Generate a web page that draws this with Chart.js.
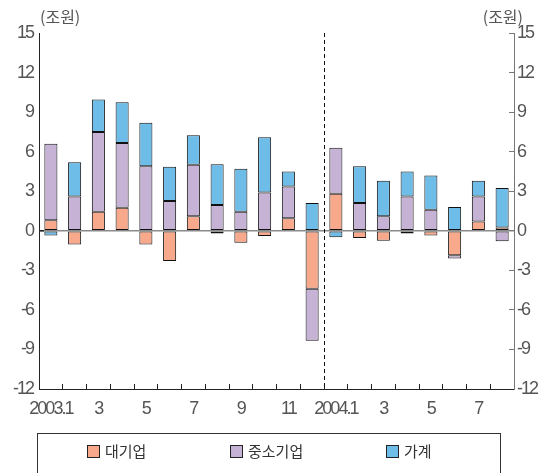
<!DOCTYPE html>
<html>
<head>
<meta charset="utf-8">
<script src="https://cdn.jsdelivr.net/npm/chart.js@4/dist/chart.umd.min.js"></script>
<style>
  html, body { margin: 0; padding: 0; background: #fff; overflow: hidden; }
  canvas { display: block; }
</style>
</head>
<body>
<canvas id="chart" width="545" height="473"></canvas>
<script>
// Monthly categories, 2003.1 – 2004.8
const months = ['2003.1','2','3','4','5','6','7','8','9','10','11','12',
                '2004.1','2','3','4','5','6','7','8'];

// Net change by borrower (조원)
const largeFirms = [0.8, -1.05, 1.45, 1.75, -1.05, -2.3, 1.1, -0.2, -0.9, -0.4,
                    0.95, -4.4, 2.8, -0.55, -0.75, -0.2, -0.35, -1.85, 0.7, 0.25];
const smallFirms = [5.8, 2.6, 6.05, 4.9, 4.9, 2.25, 3.9, 1.95, 1.45, 2.9,
                    2.4, -3.95, 3.5, 2.1, 1.1, 2.6, 1.6, -0.25, 1.9, -0.8];
const households = [-0.35, 2.6, 2.45, 3.1, 3.3, 2.6, 2.25, 3.1, 3.25, 4.2,
                    1.15, 2.1, -0.5, 2.8, 2.7, 1.9, 2.6, 1.8, 1.2, 3.0];

const seriesNames = ['대기업', '중소기업', '가계'];
const seriesColors = ['#F8A98B', '#C6B2D5', '#6DBDE8'];

const yMin = -12, yMax = 15, yStep = 3;
const unitLabel = '(조원)';

const tickFont = { family: '"Liberation Sans", Arial, sans-serif', size: 18 };
const krFont = '"Noto Sans CJK KR", sans-serif';

// Dashed year divider, unit captions and the boxed legend
const extras = {
  id: 'extras',
  beforeDraw(chart) {
    // tight digit spacing for the axis numbers
    chart.ctx.letterSpacing = '-2px';
  },
  afterDatasetsDraw(chart) {
    const { ctx, chartArea, scales } = chart;
    const x = scales.x;
    const divider = (x.getPixelForValue(11) + x.getPixelForValue(12)) / 2;
    ctx.save();
    ctx.strokeStyle = '#111';
    ctx.lineWidth = 1;
    ctx.setLineDash([4, 3]);
    ctx.beginPath();
    ctx.moveTo(Math.round(divider) + 0.5, chartArea.top);
    ctx.lineTo(Math.round(divider) + 0.5, chartArea.bottom);
    ctx.stroke();
    ctx.restore();
  },
  afterDraw(chart) {
    const { ctx, chartArea } = chart;
    ctx.letterSpacing = '0px';
    ctx.save();
    ctx.fillStyle = '#555';
    ctx.font = '16px ' + krFont;
    ctx.textBaseline = 'middle';
    ctx.textAlign = 'left';
    ctx.fillText(unitLabel, chartArea.left + 1, 17);
    ctx.textAlign = 'right';
    ctx.fillText(unitLabel, chartArea.right + 9, 17);

    // legend frame (open at the bottom edge of the page)
    ctx.strokeStyle = '#333';
    ctx.lineWidth = 1;
    ctx.strokeRect(37.5, 433.5, 463, 80);

    const itemX = [87, 230, 386];
    const itemY = 451;
    ctx.font = '15px ' + krFont;
    ctx.textAlign = 'left';
    ctx.textBaseline = 'middle';
    chart.data.datasets.forEach((ds, i) => {
      ctx.fillStyle = ds.backgroundColor;
      ctx.fillRect(itemX[i] + 0.5, itemY - 6 + 0.5, 12, 12);
      ctx.strokeStyle = '#222';
      ctx.strokeRect(itemX[i] + 0.5, itemY - 6 + 0.5, 12, 12);
      ctx.fillStyle = '#333';
      ctx.fillText(ds.label, itemX[i] + 18, itemY);
    });
    ctx.restore();
  }
};

const datasets = [largeFirms, smallFirms, households].map((values, i) => ({
  label: seriesNames[i],
  data: values,
  backgroundColor: seriesColors[i],
  borderColor: '#111',
  borderWidth: 1,
  borderSkipped: false,
  barPercentage: 0.55,
  categoryPercentage: 1.0,
  yAxisID: 'y'
}));

new Chart(document.getElementById('chart'), {
  type: 'bar',
  data: { labels: months, datasets },
  plugins: [extras],
  options: {
    responsive: false,
    animation: false,
    devicePixelRatio: 1,
    layout: { padding: { top: 33, left: 0, right: 0, bottom: 0 } },
    plugins: { legend: { display: false }, tooltip: { enabled: false } },
    scales: {
      x: {
        stacked: true,
        offset: true,
        border: { color: '#222', width: 1 },
        grid: { offset: true, drawOnChartArea: false, tickLength: -5, tickColor: '#222', tickWidth: 1 },
        ticks: {
          autoSkip: false,
          maxRotation: 0,
          padding: 14,
          color: '#555',
          font: tickFont,
          callback(value) {
            return (value % 2 === 0) ? months[value] : '';
          }
        },
        afterFit(scale) { scale.height = 84; }
      },
      y: {
        stacked: true,
        position: 'left',
        min: yMin, max: yMax,
        border: { color: '#222', width: 1 },
        grid: {
          drawOnChartArea: true,
          tickLength: -5,
          tickColor: '#222',
          color: (c) => (c.tick && c.tick.value === 0) ? '#8a8a8a' : 'rgba(0,0,0,0)',
          lineWidth: (c) => (c.tick && c.tick.value === 0) ? 1.5 : 0
        },
        ticks: { stepSize: yStep, padding: 11, color: '#555', font: tickFont },
        afterFit(scale) { scale.width = 39; }
      },
      y2: {
        position: 'right',
        min: yMin, max: yMax,
        border: { color: '#777', width: 1 },
        grid: { drawOnChartArea: false, tickLength: -5, tickColor: '#777' },
        ticks: { stepSize: yStep, padding: 8, color: '#555', font: tickFont },
        afterFit(scale) { scale.width = 31; }
      }
    }
  }
});
</script>
</body>
</html>
